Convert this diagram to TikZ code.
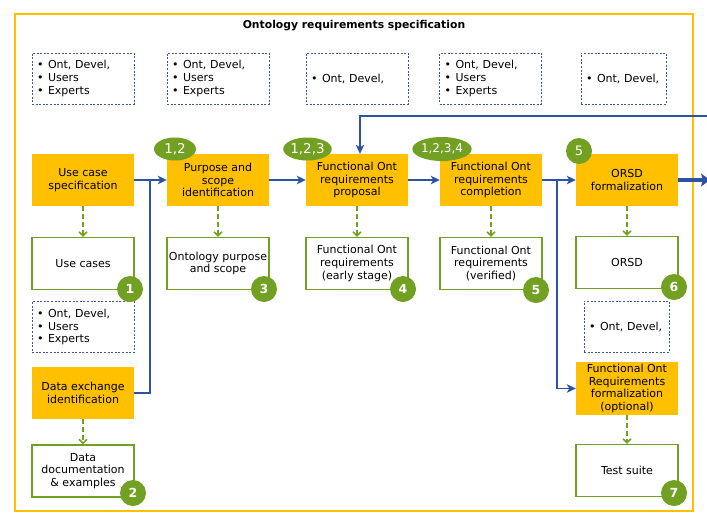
\documentclass[tikz,border=0pt]{standalone}
\usepackage{fontspec}
\setmainfont{DejaVu Sans}
\usetikzlibrary{arrows.meta,shapes.geometric}

\definecolor{gold}{RGB}{255,192,0}
\definecolor{leaf}{RGB}{114,160,34}
\definecolor{flowblue}{RGB}{45,82,162}
\definecolor{stakeblue}{RGB}{62,88,158}

\newcommand\stbul{\makebox[11pt][l]{•}}

\begin{document}
\begin{tikzpicture}[x=1pt,y=-1pt,
  font=\fontsize{11}{12.7}\selectfont,
  proc/.style={fill=gold, minimum width=102pt, minimum height=52pt,
    align=center, inner sep=1pt},
  outb/.style={draw=leaf, line width=1.3pt, fill=white, minimum width=102pt,
    minimum height=52pt, align=center, inner sep=1pt},
  stake/.style={draw=stakeblue, line width=0.9pt, dash pattern=on 2pt off 1.6pt,
    minimum width=102pt, minimum height=51pt, text width=92pt,
    align=left, inner xsep=5pt, inner ysep=1pt},
  num/.style={circle, fill=leaf, text=white, inner sep=0pt, minimum size=26pt,
    font=\fontsize{12.5}{14}\selectfont\bfseries},
  tag/.style={ellipse, fill=leaf, text=white, inner sep=0pt,
    font=\fontsize{13.5}{15}\selectfont},
  flow/.style={draw=flowblue, line width=1.7pt,
    -{Stealth[length=9pt,width=8.5pt,inset=2.5pt]}},
  flowline/.style={draw=flowblue, line width=1.7pt},
  bigflow/.style={draw=flowblue, line width=4pt,
    -{Stealth[length=9pt,width=13pt,inset=2pt]}},
  dep/.style={draw=leaf, line width=2pt, dash pattern=on 5pt off 3pt,
    -{Straight Barb[length=4pt,width=8pt,line width=1.5pt]}}
]
\clip (0,0) rectangle (707,523);
\fill[white] (0,0) rectangle (707,523);

% outer frame and heading
\draw[gold, line width=2pt] (15,14) rectangle (693,511);
\node[font=\fontsize{10.8}{12.7}\selectfont\bfseries] (title) at (354,26)
  {Ontology requirements specification};

% stakeholder boxes
\node[stake] (s1) at (83,78.5) {\stbul Ont, Devel,\\\stbul Users\\\stbul Experts};
\node[stake] (s2) at (218,78.5) {\stbul Ont, Devel,\\\stbul Users\\\stbul Experts};
\node[stake] (s3) at (357,78.5) {\stbul Ont, Devel,};
\node[stake] (s4) at (490.5,78.5) {\stbul Ont, Devel,\\\stbul Users\\\stbul Experts};
\node[stake, minimum width=85pt, text width=75pt] (s5) at (623.5,78.5) {\stbul Ont, Devel,};
\node[stake] (s6) at (83,327) {\stbul Ont, Devel,\\\stbul Users\\\stbul Experts};
\node[stake, minimum width=85pt, text width=75pt] (s7) at (626.5,326.5) {\stbul Ont, Devel,};

% activities
\node[proc] (ucs) at (83,180) {Use case\\specification};
\node[proc] (pur) at (218,180) {Purpose and\\scope\\identification};
\node[proc] (prop) at (357,180) {Functional Ont\\requirements\\proposal};
\node[proc] (comp) at (491,180) {Functional Ont\\requirements\\completion};
\node[proc] (orsdf) at (627,180) {ORSD\\formalization};
\node[proc] (dei) at (83,393) {Data exchange\\identification};
\node[proc, minimum height=53pt] (fof) at (627,388.5)
  {Functional Ont\\Requirements\\formalization\\(optional)};

% outputs
\node[outb] (uc) at (83,263.5) {Use cases};
\node[outb] (ops) at (218,263.5) {Ontology purpose\\and scope};
\node[outb] (fe) at (357,263.5) {Functional Ont\\requirements\\(early stage)};
\node[outb] (fv) at (491,263.5) {Functional Ont\\requirements\\(verified)};
\node[outb] (orsd) at (627,262.5) {ORSD};
\node[outb] (ddoc) at (83,471) {Data\\documentation\\\& examples};
\node[outb] (ts) at (627,470.5) {Test suite};

% activity flow
\coordinate (j1) at (150,180);
\coordinate (j2) at (557,180);
\coordinate (fb) at (712,116);
\coordinate (out) at (710,180);
\draw[flow] (ucs.east) -- (pur.west);
\draw[flowline] (dei.east) -| (j1);
\draw[flow] (pur.east) -- (prop.west);
\draw[flow] (prop.east) -- (comp.west);
\draw[flow] (comp.east) -- (orsdf.west);
\draw[flow] (j2) |- (fof.west);
\draw[flow] (fb) -| ([xshift=3pt]prop.north);
\draw[bigflow] (orsdf.east) -- (out);

% produced outputs
\draw[dep] (ucs.south) -- (uc.north);
\draw[dep] (pur.south) -- (ops.north);
\draw[dep] (prop.south) -- (fe.north);
\draw[dep] (comp.south) -- (fv.north);
\draw[dep] (orsdf.south) -- (orsd.north);
\draw[dep] (dei.south) -- (ddoc.north);
\draw[dep] (fof.south) -- (ts.north);

% input tags
\node[tag, minimum width=42pt, minimum height=23pt] (t12) at (175,149) {1,2};
\node[tag, minimum width=44pt, minimum height=23pt] (t123) at (307.5,149) {1,2,3};
\node[tag, minimum width=50pt, minimum height=24pt,
  font=\fontsize{12}{14}\selectfont] (t1234) at (442,149) {1,2,3,4};
\node[num, font=\fontsize{13}{14}\selectfont] (t5) at (579,151) {5};

% output numbers
\node[num] (n1) at (130,289) {1};
\node[num] (n3) at (264,289) {3};
\node[num] (n4) at (403,289) {4};
\node[num] (n5) at (536,290) {5};
\node[num] (n6) at (674,287) {6};
\node[num] (n2) at (133,493) {2};
\node[num] (n7) at (674,493) {7};
\end{tikzpicture}
\end{document}
